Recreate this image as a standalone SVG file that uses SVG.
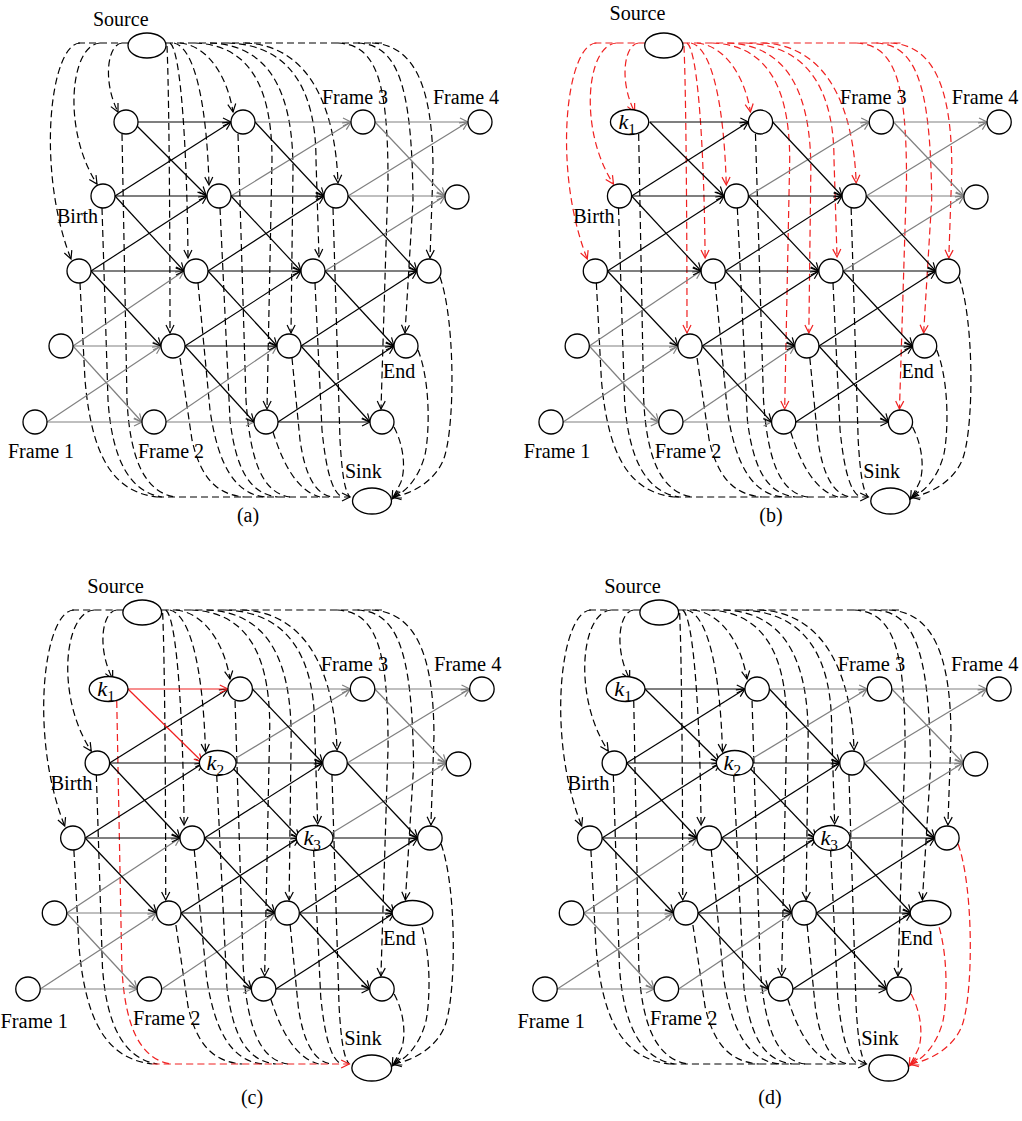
<svg xmlns="http://www.w3.org/2000/svg" width="1022" height="1121" viewBox="0 0 1022 1121">
<style>
.n{fill:#fff;stroke:#000;stroke-width:1.3}
.t{font-family:"Liberation Serif","Times New Roman",serif;font-size:20px;fill:#000}
.it{font-style:italic;font-size:22px}
.sub{font-style:normal;font-size:15px}
.e{fill:none;stroke-width:1.2}
.k{stroke:#000;marker-end:url(#mk)}
.g{stroke:#808080;marker-end:url(#mg)}
.d{fill:none;stroke-width:1.2;stroke-dasharray:7 4}
</style>
<defs>
<marker id="mk" viewBox="0 0 10 10" refX="9" refY="5" markerWidth="10" markerHeight="10" markerUnits="userSpaceOnUse" orient="auto" overflow="visible"><path d="M1,1 L9,5 L1,9" fill="none" stroke="#000" stroke-width="1.2"/></marker>
<marker id="mg" viewBox="0 0 10 10" refX="9" refY="5" markerWidth="10" markerHeight="10" markerUnits="userSpaceOnUse" orient="auto" overflow="visible"><path d="M1,1 L9,5 L1,9" fill="none" stroke="#808080" stroke-width="1.2"/></marker>
<marker id="mr" viewBox="0 0 10 10" refX="9" refY="5" markerWidth="10" markerHeight="10" markerUnits="userSpaceOnUse" orient="auto" overflow="visible"><path d="M1,1 L9,5 L1,9" fill="none" stroke="#f02020" stroke-width="1.2"/></marker>
<g id="srcE" class="d">
<path marker-end="none" d="M78,43 H128 M166,43 H386"/>
<path d="M122,43 C108,44 102,80 118,112"/>
<path d="M100,43 C70,45 62,130 97,184"/>
<path d="M80,43 C50,44 36,170 71,259"/>
<path d="M167,46 C169,90 170,220 170,333"/>
<path d="M170,43 C181,50 187,150 188,258"/>
<path d="M174,43 C196,48 207,110 209,185"/>
<path d="M180,43 C210,46 228,80 233,112"/>
<path d="M195,43 C245,45 272,80 272,160 L267,409"/>
<path d="M210,43 C265,45 293,85 293,170 L291,333"/>
<path d="M228,43 C290,45 316,90 316,160 L319,257"/>
<path d="M245,43 C305,45 335,100 338,183"/>
<path d="M338,43 C376,45 388,80 388,180 L381,409"/>
<path d="M358,43 C396,45 412,80 413,200 L405,333"/>
<path d="M372,43 C416,45 433,90 433,170 L430,258"/>
</g>
<g id="snkE" class="d">
<path d="M102,208 L108,400 C112,460 130,492 162,497"/>
<path d="M80,283 L85,380 C92,460 115,492 157,497"/>
<path d="M238,134 L246,400 C250,460 262,493 290,497"/>
<path d="M220,208 L230,420 C236,470 250,494 278,497"/>
<path d="M198,283 L210,410 C218,465 235,494 265,497"/>
<path d="M180,358 L192,440 C200,475 215,495 245,497"/>
<path d="M333,208 L340,440 C342,475 345,492 350,497"/>
<path d="M315,283 L322,430 C326,470 332,492 342,497"/>
<path d="M292,358 L300,440 C305,475 315,494 332,497"/>
<path d="M273,432 C282,460 295,490 320,497"/>
</g>
<path id="skb" class="d" d="M157,497 L350,497"/>
<path id="sk1" class="d" d="M122,134 L127,400 C130,460 145,492 175,497"/>
<g id="skR" class="d">
<path d="M440,277 C455,320 455,420 445,455 C438,480 412,494 393,497"/>
<path d="M418,350 C430,380 430,430 425,455 C418,480 405,492 393,498"/>
<path d="M394,427 C406,450 405,475 400,484 C397,490 395,494 392,499"/>
</g>
<g id="kE" class="e">
<path d="M133,122 L231,122"/>
<path d="M133,122 L206,195"/>
</g>
<g id="solE" class="e">
<path class="g" d="M73,346 L184,271"/>
<path class="g" d="M73,346 L161,346"/>
<path class="g" d="M73,346 L142,422"/>
<path class="g" d="M47,422 L161,346"/>
<path class="g" d="M47,422 L142,422"/>
<path class="g" d="M255,122 L351,122"/>
<path class="g" d="M231,196 L351,122"/>
<path class="g" d="M166,422 L277,346"/>
<path class="g" d="M166,422 L254,422"/>
<path class="g" d="M375,122 L468,122"/>
<path class="g" d="M375,122 L445,196"/>
<path class="g" d="M348,196 L468,122"/>
<path class="g" d="M348,196 L445,196"/>
<path class="g" d="M325,271 L445,196"/>
<path class="k" d="M115,196 L231,122"/>
<path class="k" d="M115,196 L207,196"/>
<path class="k" d="M115,196 L184,271"/>
<path class="k" d="M91,271 L207,196"/>
<path class="k" d="M91,271 L184,271"/>
<path class="k" d="M91,271 L161,346"/>
<path class="k" d="M255,122 L324,196"/>
<path class="k" d="M231,196 L324,196"/>
<path class="k" d="M231,196 L301,271"/>
<path class="k" d="M208,271 L324,196"/>
<path class="k" d="M208,271 L301,271"/>
<path class="k" d="M208,271 L277,346"/>
<path class="k" d="M185,346 L301,271"/>
<path class="k" d="M185,346 L277,346"/>
<path class="k" d="M185,346 L254,422"/>
<path class="k" d="M348,196 L417,271"/>
<path class="k" d="M325,271 L417,271"/>
<path class="k" d="M325,271 L394,346"/>
<path class="k" d="M301,346 L417,271"/>
<path class="k" d="M301,346 L394,346"/>
<path class="k" d="M301,346 L370,422"/>
<path class="k" d="M278,422 L394,346"/>
<path class="k" d="M278,422 L370,422"/>
</g>
</defs>

<g id="panel-a">
<g id="a-connectors">
<use href="#srcE" stroke="#000" marker-end="url(#mk)"/>
<use href="#snkE" stroke="#000"/>
<use href="#sk1" stroke="#000"/>
<use href="#skb" stroke="#000" marker-end="url(#mk)"/>
<use href="#skR" stroke="#000" marker-end="url(#mk)"/>
<use href="#solE"/>
<use href="#kE" stroke="#000" marker-end="url(#mk)"/>
</g>
<g id="a-source"><ellipse class="n" cx="147" cy="45.5" rx="19" ry="12.5"/><text class="t" x="93" y="26">Source</text></g>
<g id="a-sink"><ellipse class="n" cx="372" cy="501" rx="19.5" ry="13"/><text class="t" x="345" y="478">Sink</text></g>
<g id="a-n11"><circle class="n" cx="126" cy="122" r="12"/></g>
<g id="a-n12"><circle class="n" cx="243" cy="122" r="12"/></g>
<g id="a-n13"><circle class="n" cx="363" cy="122" r="12"/><text class="t" x="322" y="104">Frame 3</text></g>
<g id="a-n14"><circle class="n" cx="480" cy="122" r="12"/><text class="t" x="433" y="104">Frame 4</text></g>
<g id="a-n21"><circle class="n" cx="103" cy="196" r="12"/><text class="t" x="57" y="223">Birth</text></g>
<g id="a-n22"><circle class="n" cx="219" cy="196" r="12"/></g>
<g id="a-n23"><circle class="n" cx="336" cy="196" r="12"/></g>
<g id="a-n24"><circle class="n" cx="457" cy="197" r="12"/></g>
<g id="a-n31"><circle class="n" cx="79" cy="271" r="12"/></g>
<g id="a-n32"><circle class="n" cx="196" cy="271" r="12"/></g>
<g id="a-n33"><circle class="n" cx="313" cy="271" r="12"/></g>
<g id="a-n34"><circle class="n" cx="429" cy="271" r="12"/></g>
<g id="a-n41"><circle class="n" cx="61" cy="346" r="12"/></g>
<g id="a-n42"><circle class="n" cx="173" cy="346" r="12"/></g>
<g id="a-n43"><circle class="n" cx="289" cy="346" r="12"/></g>
<g id="a-n44"><circle class="n" cx="406" cy="346" r="12"/><text class="t" x="383" y="378">End</text></g>
<g id="a-n51"><circle class="n" cx="35" cy="422" r="12"/><text class="t" x="8" y="458">Frame 1</text></g>
<g id="a-n52"><circle class="n" cx="154" cy="422" r="12"/><text class="t" x="138" y="458">Frame 2</text></g>
<g id="a-n53"><circle class="n" cx="266" cy="422" r="12"/></g>
<g id="a-n54"><circle class="n" cx="382" cy="422" r="12"/></g>
</g>

<g id="panel-b" transform="matrix(1.007 0 0 1 515.8 0)">
<g id="b-connectors">
<use href="#srcE" stroke="#f02020" marker-end="url(#mr)"/>
<use href="#snkE" stroke="#000"/>
<use href="#sk1" stroke="#000"/>
<use href="#skb" stroke="#000" marker-end="url(#mk)"/>
<use href="#skR" stroke="#000" marker-end="url(#mk)"/>
<use href="#solE"/>
<use href="#kE" stroke="#000" marker-end="url(#mk)"/>
</g>
<g id="b-source"><ellipse class="n" cx="147" cy="45.5" rx="19" ry="12.5"/><text class="t" x="93" y="20">Source</text></g>
<g id="b-sink"><ellipse class="n" cx="372" cy="501" rx="19.5" ry="13"/><text class="t" x="345" y="478">Sink</text></g>
<g id="b-n11"><ellipse class="n" cx="113" cy="122" rx="19" ry="12.5"/><text class="t it" x="102" y="129">k<tspan class="sub" dy="5">1</tspan></text></g>
<g id="b-n12"><circle class="n" cx="243" cy="122" r="12"/></g>
<g id="b-n13"><circle class="n" cx="363" cy="122" r="12"/><text class="t" x="322" y="104">Frame 3</text></g>
<g id="b-n14"><circle class="n" cx="480" cy="122" r="12"/><text class="t" x="433" y="104">Frame 4</text></g>
<g id="b-n21"><circle class="n" cx="103" cy="196" r="12"/><text class="t" x="57" y="223">Birth</text></g>
<g id="b-n22"><circle class="n" cx="219" cy="196" r="12"/></g>
<g id="b-n23"><circle class="n" cx="336" cy="196" r="12"/></g>
<g id="b-n24"><circle class="n" cx="457" cy="197" r="12"/></g>
<g id="b-n31"><circle class="n" cx="79" cy="271" r="12"/></g>
<g id="b-n32"><circle class="n" cx="196" cy="271" r="12"/></g>
<g id="b-n33"><circle class="n" cx="313" cy="271" r="12"/></g>
<g id="b-n34"><circle class="n" cx="429" cy="271" r="12"/></g>
<g id="b-n41"><circle class="n" cx="61" cy="346" r="12"/></g>
<g id="b-n42"><circle class="n" cx="173" cy="346" r="12"/></g>
<g id="b-n43"><circle class="n" cx="289" cy="346" r="12"/></g>
<g id="b-n44"><circle class="n" cx="406" cy="346" r="12"/><text class="t" x="383" y="378">End</text></g>
<g id="b-n51"><circle class="n" cx="35" cy="422" r="12"/><text class="t" x="8" y="458">Frame 1</text></g>
<g id="b-n52"><circle class="n" cx="154" cy="422" r="12"/><text class="t" x="138" y="458">Frame 2</text></g>
<g id="b-n53"><circle class="n" cx="266" cy="422" r="12"/></g>
<g id="b-n54"><circle class="n" cx="382" cy="422" r="12"/></g>
</g>

<g id="panel-c" transform="matrix(1.02 0 0 1 -7.7 567)">
<g id="c-connectors">
<use href="#srcE" stroke="#000" marker-end="url(#mk)"/>
<use href="#snkE" stroke="#000"/>
<use href="#sk1" stroke="#f02020"/>
<use href="#skb" stroke="#f02020" marker-end="url(#mr)"/>
<use href="#skR" stroke="#000" marker-end="url(#mk)"/>
<use href="#solE"/>
<use href="#kE" stroke="#f02020" marker-end="url(#mr)"/>
</g>
<g id="c-source"><ellipse class="n" cx="147" cy="45.5" rx="19" ry="12.5"/><text class="t" x="93" y="26">Source</text></g>
<g id="c-sink"><ellipse class="n" cx="372" cy="501" rx="19.5" ry="13"/><text class="t" x="345" y="478">Sink</text></g>
<g id="c-n11"><ellipse class="n" cx="114" cy="122" rx="19" ry="12.5"/><text class="t it" x="103" y="129">k<tspan class="sub" dy="5">1</tspan></text></g>
<g id="c-n12"><circle class="n" cx="243" cy="122" r="12"/></g>
<g id="c-n13"><circle class="n" cx="363" cy="122" r="12"/><text class="t" x="322" y="104">Frame 3</text></g>
<g id="c-n14"><circle class="n" cx="480" cy="122" r="12"/><text class="t" x="433" y="104">Frame 4</text></g>
<g id="c-n21"><circle class="n" cx="103" cy="196" r="12"/><text class="t" x="57" y="223">Birth</text></g>
<g id="c-n22"><ellipse class="n" cx="221" cy="196" rx="18" ry="12.5"/><text class="t it" x="210" y="203">k<tspan class="sub" dy="5">2</tspan></text></g>
<g id="c-n23"><circle class="n" cx="336" cy="196" r="12"/></g>
<g id="c-n24"><circle class="n" cx="457" cy="197" r="12"/></g>
<g id="c-n31"><circle class="n" cx="79" cy="271" r="12"/></g>
<g id="c-n32"><circle class="n" cx="196" cy="271" r="12"/></g>
<g id="c-n33"><ellipse class="n" cx="316" cy="271" rx="18" ry="12.5"/><text class="t it" x="305" y="278">k<tspan class="sub" dy="5">3</tspan></text></g>
<g id="c-n34"><circle class="n" cx="429" cy="271" r="12"/></g>
<g id="c-n41"><circle class="n" cx="61" cy="346" r="12"/></g>
<g id="c-n42"><circle class="n" cx="173" cy="346" r="12"/></g>
<g id="c-n43"><circle class="n" cx="289" cy="346" r="12"/></g>
<g id="c-n44"><ellipse class="n" cx="412" cy="346" rx="20" ry="12.5"/><text class="t" x="383" y="378">End</text></g>
<g id="c-n51"><circle class="n" cx="35" cy="422" r="12"/><text class="t" x="8" y="461">Frame 1</text></g>
<g id="c-n52"><circle class="n" cx="154" cy="422" r="12"/><text class="t" x="138" y="458">Frame 2</text></g>
<g id="c-n53"><circle class="n" cx="266" cy="422" r="12"/></g>
<g id="c-n54"><circle class="n" cx="382" cy="422" r="12"/></g>
</g>

<g id="panel-d" transform="matrix(1.02 0 0 1 509.3 567)">
<g id="d-connectors">
<use href="#srcE" stroke="#000" marker-end="url(#mk)"/>
<use href="#snkE" stroke="#000"/>
<use href="#sk1" stroke="#000"/>
<use href="#skb" stroke="#000" marker-end="url(#mk)"/>
<use href="#skR" stroke="#f02020" marker-end="url(#mr)"/>
<use href="#solE"/>
<use href="#kE" stroke="#000" marker-end="url(#mk)"/>
</g>
<g id="d-source"><ellipse class="n" cx="147" cy="45.5" rx="19" ry="12.5"/><text class="t" x="93" y="26">Source</text></g>
<g id="d-sink"><ellipse class="n" cx="372" cy="501" rx="19.5" ry="13"/><text class="t" x="345" y="478">Sink</text></g>
<g id="d-n11"><ellipse class="n" cx="114" cy="122" rx="19" ry="12.5"/><text class="t it" x="103" y="129">k<tspan class="sub" dy="5">1</tspan></text></g>
<g id="d-n12"><circle class="n" cx="243" cy="122" r="12"/></g>
<g id="d-n13"><circle class="n" cx="363" cy="122" r="12"/><text class="t" x="322" y="104">Frame 3</text></g>
<g id="d-n14"><circle class="n" cx="480" cy="122" r="12"/><text class="t" x="433" y="104">Frame 4</text></g>
<g id="d-n21"><circle class="n" cx="103" cy="196" r="12"/><text class="t" x="57" y="223">Birth</text></g>
<g id="d-n22"><ellipse class="n" cx="221" cy="196" rx="18" ry="12.5"/><text class="t it" x="210" y="203">k<tspan class="sub" dy="5">2</tspan></text></g>
<g id="d-n23"><circle class="n" cx="336" cy="196" r="12"/></g>
<g id="d-n24"><circle class="n" cx="457" cy="197" r="12"/></g>
<g id="d-n31"><circle class="n" cx="79" cy="271" r="12"/></g>
<g id="d-n32"><circle class="n" cx="196" cy="271" r="12"/></g>
<g id="d-n33"><ellipse class="n" cx="316" cy="271" rx="18" ry="12.5"/><text class="t it" x="305" y="278">k<tspan class="sub" dy="5">3</tspan></text></g>
<g id="d-n34"><circle class="n" cx="429" cy="271" r="12"/></g>
<g id="d-n41"><circle class="n" cx="61" cy="346" r="12"/></g>
<g id="d-n42"><circle class="n" cx="173" cy="346" r="12"/></g>
<g id="d-n43"><circle class="n" cx="289" cy="346" r="12"/></g>
<g id="d-n44"><ellipse class="n" cx="413" cy="346" rx="20" ry="12.5"/><text class="t" x="383" y="378">End</text></g>
<g id="d-n51"><circle class="n" cx="35" cy="422" r="12"/><text class="t" x="8" y="461">Frame 1</text></g>
<g id="d-n52"><circle class="n" cx="154" cy="422" r="12"/><text class="t" x="138" y="458">Frame 2</text></g>
<g id="d-n53"><circle class="n" cx="266" cy="422" r="12"/></g>
<g id="d-n54"><circle class="n" cx="382" cy="422" r="12"/></g>
</g>

<g id="captions">
<text class="t" x="248" y="522" text-anchor="middle">(a)</text>
<text class="t" x="771" y="522" text-anchor="middle">(b)</text>
<text class="t" x="252" y="1104" text-anchor="middle">(c)</text>
<text class="t" x="770" y="1104" text-anchor="middle">(d)</text>
</g>
</svg>
